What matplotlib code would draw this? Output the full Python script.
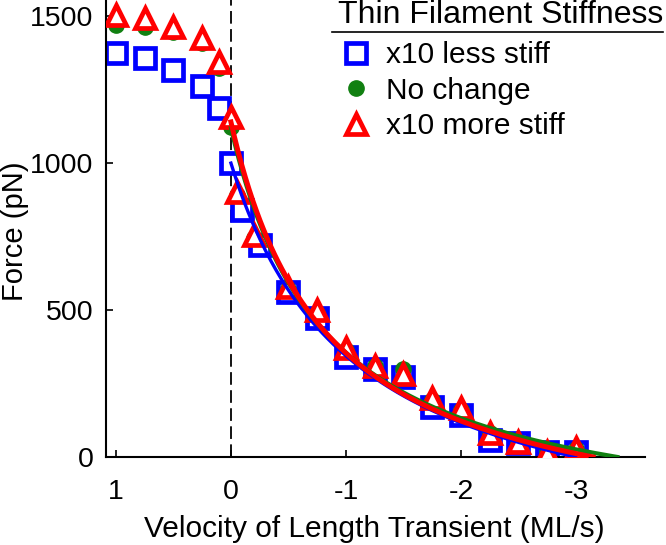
import numpy as np
import matplotlib
matplotlib.use('Agg')
import matplotlib.pyplot as plt
from matplotlib.lines import Line2D

plt.rcParams['font.family'] = ['Liberation Sans', 'DejaVu Sans']

# data (velocity in ML/s, force in pN)
vel_less = [1, 0.75, 0.5, 0.25, 0.1, 0, -0.1, -0.25, -0.5, -0.75, -1, -1.25, -1.5, -1.75, -2, -2.25, -2.5, -2.75, -3]
force_less = [1374, 1357, 1316, 1262, 1187, 1000, 840, 721, 561, 473, 340, 300, 272, 170, 143, 58, 48, 17, 17]

vel_same = [1, 0.75, 0.5, 0.25, 0.1, 0, -0.05, -0.2, -0.5, -0.75, -1, -1.25, -1.5, -1.75, -2, -2.25, -2.5, -2.75, -3]
force_same = [1469, 1463, 1446, 1408, 1323, 1122, 890, 745, 570, 490, 365, 310, 300, 195, 160, 80, 50, 20, 28]

vel_more = [1, 0.75, 0.5, 0.25, 0.1, 0, -0.05, -0.2, -0.5, -0.75, -1, -1.25, -1.5, -1.75, -2, -2.25, -2.5, -2.75, -3]
force_more = [1503, 1493, 1463, 1425, 1344, 1156, 901, 755, 578, 500, 372, 311, 284, 200, 167, 82, 51, 17, 31]

# Hill fit parameters (F0, a, b) for the shortening side
hill_less = (1000, 357, 1.07)
hill_same = (1120, 274, 0.822)
hill_more = (1140, 302, 0.834)


def hill_curve(F0, a, b):
    umax = F0 * b / a
    u = np.linspace(0, umax, 200)
    F = (F0 + a) * b / (u + b) - a
    return -u, F


fig = plt.figure(figsize=(6.66, 5.45), dpi=100)
ax = fig.add_axes([0.159, 0.1615, 0.8095, 0.8385])

ax.axvline(0, color='black', lw=1.3, ls=(0, (7, 3)), zorder=1)

ax.plot(vel_less, force_less, ls='none', marker='s', ms=14, mew=3.4,
        mec='#0000ff', mfc='white', zorder=2, label='x10 less stiff')
ax.plot(vel_same, force_same, ls='none', marker='o', ms=11,
        mec='#118011', mfc='#118011', zorder=3, label='No change')
ax.plot(vel_more, force_more, ls='none', marker='^', ms=15, mew=3.4,
        mec='#ff0000', mfc='white', zorder=4, label='x10 more stiff')

x, y = hill_curve(*hill_less)
ax.plot(x, y, color='#0000ff', lw=2.4, zorder=5)
x, y = hill_curve(*hill_same)
ax.plot(x, y, color='#118011', lw=3.0, zorder=6)
x, y = hill_curve(*hill_more)
ax.plot(x, y, color='#ff0000', lw=3.6, zorder=7)

ax.set_xlim(1.087, -3.6)
ax.set_ylim(0, 1555)
ax.set_xticks([1, 0, -1, -2, -3])
ax.set_xticklabels(['1', '0', '-1', '-2', '-3'])
ax.set_yticks([0, 500, 1000, 1500])
ax.tick_params(direction='in', length=5, width=1.2, labelsize=20.5)
ax.tick_params(axis='x', pad=16)
ax.tick_params(axis='y', pad=9)
for s in ['top', 'right']:
    ax.spines[s].set_visible(False)
for s in ['left', 'bottom']:
    ax.spines[s].set_linewidth(1.5)

ax.set_xlabel('Velocity of Length Transient (ML/s)', fontsize=21.5, va='baseline')
ax.set_ylabel('Force (pN)', fontsize=21)
ax.xaxis.set_label_coords(0.498, -0.176)
ax.yaxis.set_label_coords(-0.143, 0.495)

leg = ax.legend(title='Thin Filament Stiffness', loc='upper left',
                bbox_to_anchor=(338 / 666, 1.0), bbox_transform=fig.transFigure,
                frameon=False, fontsize=21.5, title_fontsize=23,
                handletextpad=0.4, labelspacing=0.25, borderpad=0,
                borderaxespad=0, handlelength=1.2, markerscale=1.0)
leg._legend_box.align = 'left'
leg._legend_box.sep = 8
fig.add_artist(Line2D([0.4985, 0.9955], [0.941, 0.941], color='black', lw=1.2,
                      transform=fig.transFigure))

fig.savefig('out.png', dpi=100)
